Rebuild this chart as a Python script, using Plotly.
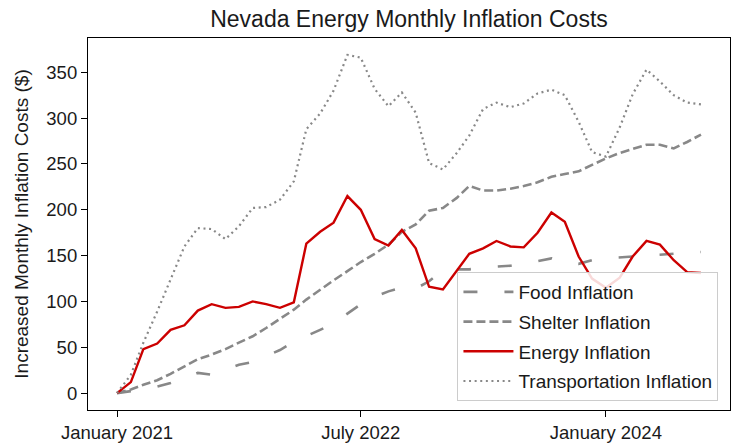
import plotly.graph_objects as go
import pandas as pd

months = pd.date_range("2021-01-01", "2024-08-01", freq="MS")

food = [0, 2, 4, 7, 11, 16, 22, 20, 26, 31, 34, 40, 47, 56, 62, 69, 76, 87, 97, 105,
        111, 115, 114, 122, 134, 135, 135, 137, 138, 139, 142, 144, 147, 142, 141, 145,
        147, 148, 149, 150, 151, 152, 153, 154]
shelter = [0, 4, 9, 14, 21, 29, 37, 42, 48, 55, 62, 71, 81, 91, 102, 113, 123, 133, 143, 152,
           162, 176, 184, 199, 202, 213, 226, 221, 221, 223, 226, 230, 236, 239, 242, 249,
           256, 262, 266, 271, 271, 267, 274, 282]
energy = [0, 12, 48, 54, 69, 74, 90, 97, 93, 94, 100, 97, 93, 99, 163, 176, 186, 215, 200, 168,
          161, 178, 158, 116, 113, 133, 152, 158, 166, 160, 159, 175, 197, 187, 149, 125,
          115, 126, 149, 166, 162, 145, 132, 131]
transport = [0, 20, 55, 89, 124, 160, 180, 179, 168, 182, 202, 203, 211, 231, 288, 305, 330, 369,
             366, 332, 313, 328, 306, 251, 244, 262, 281, 310, 317, 312, 316, 327, 331, 325,
             296, 263, 258, 290, 326, 353, 340, 325, 317, 315]

tick_vals = ["2021-01-01", "2022-07-01", "2024-01-01"]
tick_text = ["January 2021", "July 2022", "January 2024"]

FONT = "Liberation Sans, Arial, sans-serif"

fig = go.Figure()
fig.add_trace(go.Scatter(x=months, y=food, mode="lines", name="Food Inflation",
                         legendgroup="a",
                         line=dict(color="#888888", width=2.6, dash="14px,27px")))
fig.add_trace(go.Scatter(x=months, y=shelter, mode="lines", name="Shelter Inflation",
                         legendgroup="b",
                         line=dict(color="#888888", width=2.6, dash="9px,4px")))
fig.add_trace(go.Scatter(x=months, y=energy, mode="lines", name="Energy Inflation",
                         legendgroup="c",
                         line=dict(color="#cc0000", width=2.4)))
fig.add_trace(go.Scatter(x=months, y=transport, mode="lines", name="Transportation Inflation",
                         legendgroup="d",
                         line=dict(color="#888888", width=2.2, dash="2px,3.6px")))

fig.update_layout(
    width=731, height=445,
    margin=dict(l=88, r=1, t=38, b=35),
    paper_bgcolor="white", plot_bgcolor="white",
    font=dict(family=FONT, size=18.5, color="#1a1a1a"),
    title=dict(text="Nevada Energy Monthly Inflation Costs", x=0.5, xref="paper",
               xanchor="center", y=1 - 19 / 445, yanchor="middle", yref="container",
               font=dict(size=23, color="#1a1a1a")),
    showlegend=True,
    legend=dict(x=0.982, y=0.024, xanchor="right", yanchor="bottom",
                bgcolor="rgba(255,255,255,0.85)", bordercolor="#cccccc", borderwidth=1,
                traceorder="grouped", tracegroupgap=2, itemwidth=50,
                font=dict(size=19, color="#1a1a1a")),
    hovermode=False,
)
fig.update_xaxes(
    type="date", range=["2020-10-28", "2024-10-05"], automargin=False,
    tickvals=tick_vals, ticktext=tick_text,
    showgrid=False, zeroline=False,
    showline=True, linecolor="black", linewidth=1.2, mirror=True,
    ticks="outside", ticklen=6, tickwidth=1.2, tickcolor="black",
)
fig.update_yaxes(
    range=[-18.45, 387.45], automargin=False,
    tickvals=[0, 50, 100, 150, 200, 250, 300, 350],
    showgrid=False, zeroline=False,
    showline=True, linecolor="black", linewidth=1.2, mirror=True,
    ticks="outside", ticklen=6, tickwidth=1.2, tickcolor="black",
    title=dict(text="Increased Monthly Inflation Costs ($)", standoff=12,
               font=dict(size=19)),
)

fig.write_html(
    "out.html",
    config={"displayModeBar": False},
    post_script="document.body.style.margin='0';document.body.style.overflow='hidden';",
)
